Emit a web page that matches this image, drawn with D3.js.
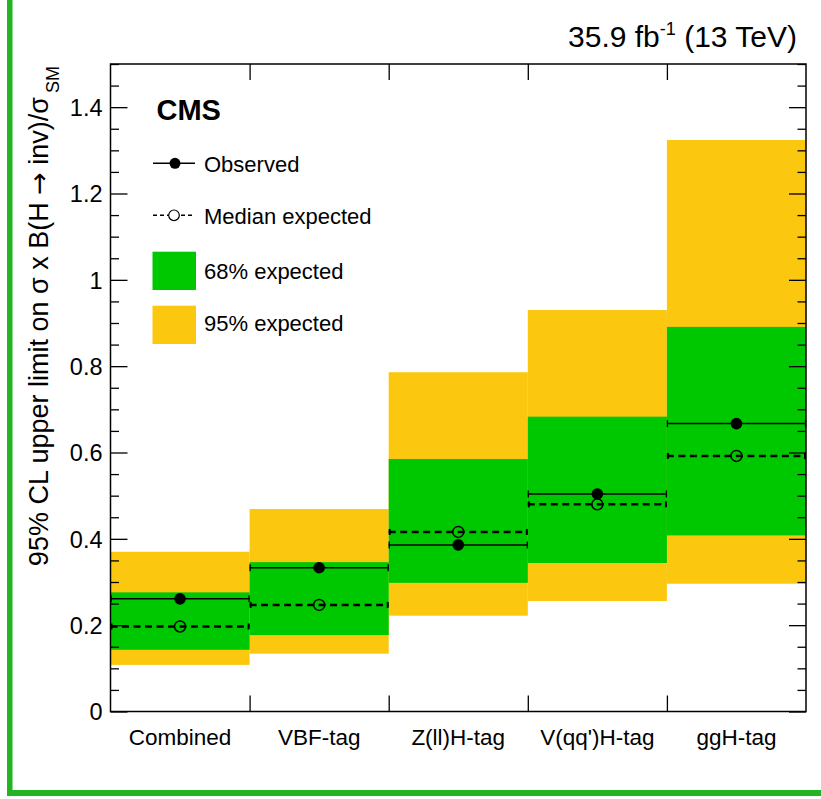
<!DOCTYPE html>
<html>
<head>
<meta charset="utf-8">
<script src="https://cdn.jsdelivr.net/npm/d3@7"></script>
<style>
  html, body { margin: 0; padding: 0; background: #fff; }
  svg { display: block; }
  text { font-family: "Liberation Sans", Arial, Helvetica, sans-serif; fill: #000; }
</style>
</head>
<body>
<svg id="chart" width="821" height="799"></svg>
<script>
// ---- data ----
const categories = ["Combined", "VBF-tag", "Z(ll)H-tag", "V(qq')H-tag", "ggH-tag"];
const observed   = [0.261, 0.333, 0.386, 0.504, 0.667];
const expected   = [0.197, 0.247, 0.416, 0.480, 0.592];
const band68Low  = [0.143, 0.177, 0.298, 0.344, 0.408];
const band68High = [0.276, 0.346, 0.585, 0.683, 0.891];
const band95Low  = [0.108, 0.134, 0.222, 0.256, 0.296];
const band95High = [0.370, 0.469, 0.786, 0.930, 1.324];
const yMajorTicks = [0, 0.2, 0.4, 0.6, 0.8, 1.0, 1.2, 1.4];
const yTickLabels = ["0", "0.2", "0.4", "0.6", "0.8", "1", "1.2", "1.4"];

// ---- layout ----
const svg = d3.select("#chart");
const L = 110.5, R = 806, T = 64, B = 711.5;
const GREEN = "#00c800", YELLOW = "#fbc70f";
const FONT = '"Liberation Sans", Arial, Helvetica, sans-serif';

const x = d3.scaleBand().domain(categories).range([L, R]).padding(0);
const xEdge = d3.scaleLinear().domain([0, categories.length]).range([L, R]);
const y = d3.scaleLinear().domain([0, 1.5]).range([B, T]);

const rows = categories.map((c, i) => ({
  c, obs: observed[i], exp: expected[i],
  l68: band68Low[i], h68: band68High[i], l95: band95Low[i], h95: band95High[i]
}));

// green page border
svg.append("rect").attr("x", 7).attr("y", 0).attr("width", 5.5).attr("height", 796).attr("fill", "#22b422");
svg.append("rect").attr("x", 7).attr("y", 790).attr("width", 814).attr("height", 6).attr("fill", "#22b422");

// bands
const g = svg.append("g");
g.selectAll("rect.b95").data(rows).join("rect")
  .attr("x", d => x(d.c)).attr("width", x.bandwidth())
  .attr("y", d => y(d.h95)).attr("height", d => y(d.l95) - y(d.h95))
  .attr("fill", YELLOW);
g.selectAll("rect.b68").data(rows).join("rect")
  .attr("x", d => x(d.c)).attr("width", x.bandwidth())
  .attr("y", d => y(d.h68)).attr("height", d => y(d.l68) - y(d.h68))
  .attr("fill", GREEN);

// expected (dashed)
const ge = svg.append("g");
rows.forEach(d => {
  const x0 = x(d.c), x1 = x(d.c) + x.bandwidth(), yy = y(d.exp);
  ge.append("line").attr("x1", x0).attr("x2", x1).attr("y1", yy).attr("y2", yy)
    .attr("stroke", "#000").attr("stroke-width", 2.5).attr("stroke-dasharray", "7,4.5");
  [x0 + 1, x1 - 1].forEach(xx => ge.append("line").attr("x1", xx).attr("x2", xx)
    .attr("y1", yy - 3).attr("y2", yy + 3).attr("stroke", "#000").attr("stroke-width", 2));
  ge.append("circle").attr("cx", x0 + x.bandwidth() / 2).attr("cy", yy).attr("r", 5.5)
    .attr("fill", "none").attr("stroke", "#000").attr("stroke-width", 1.5);
});

// observed (solid)
const go = svg.append("g");
rows.forEach(d => {
  const x0 = x(d.c), x1 = x(d.c) + x.bandwidth(), yy = y(d.obs);
  go.append("line").attr("x1", x0).attr("x2", x1).attr("y1", yy).attr("y2", yy)
    .attr("stroke", "#000").attr("stroke-width", 1.5);
  [x0 + 0.5, x1 - 0.5].forEach(xx => go.append("line").attr("x1", xx).attr("x2", xx)
    .attr("y1", yy - 3.5).attr("y2", yy + 3.5).attr("stroke", "#000").attr("stroke-width", 1.3));
  go.append("circle").attr("cx", x0 + x.bandwidth() / 2).attr("cy", yy).attr("r", 5.8).attr("fill", "#000");
});

// axes
const yMinor = d3.range(0, 1.5001, 0.05).map(v => +v.toFixed(2)).filter(v => !yMajorTicks.some(m => Math.abs(m - v) < 1e-6));
function styleAxis(sel) {
  sel.select(".domain").remove();
  sel.selectAll(".tick line").attr("stroke", "#000").attr("stroke-width", 1.3);
  sel.selectAll("text").style("font-family", FONT).attr("fill", "#000");
}
const yl = svg.append("g").attr("transform", `translate(${L},0)`)
  .call(d3.axisLeft(y).tickValues(yMajorTicks).tickSize(-17).tickPadding(8)
    .tickFormat((d, i) => yTickLabels[i]));
styleAxis(yl); yl.selectAll("text").attr("font-size", 23.5).attr("dy", "0.36em");
const ylm = svg.append("g").attr("transform", `translate(${L},0)`)
  .call(d3.axisLeft(y).tickValues(yMinor).tickSize(-8.5).tickFormat(""));
styleAxis(ylm);
const yr = svg.append("g").attr("transform", `translate(${R},0)`)
  .call(d3.axisRight(y).tickValues(yMajorTicks).tickSize(-17).tickFormat(""));
styleAxis(yr);
const yrm = svg.append("g").attr("transform", `translate(${R},0)`)
  .call(d3.axisRight(y).tickValues(yMinor).tickSize(-8.5).tickFormat(""));
styleAxis(yrm);

const edgeTicks = d3.range(1, categories.length);
const xb = svg.append("g").attr("transform", `translate(0,${B})`)
  .call(d3.axisBottom(xEdge).tickValues(edgeTicks).tickSize(-16).tickFormat(""));
styleAxis(xb);
const xt = svg.append("g").attr("transform", `translate(0,${T})`)
  .call(d3.axisTop(xEdge).tickValues(edgeTicks).tickSize(-16).tickFormat(""));
styleAxis(xt);
const xlab = svg.append("g").attr("transform", `translate(0,${B})`)
  .call(d3.axisBottom(x).tickSize(0).tickPadding(0));
xlab.select(".domain").remove();
xlab.selectAll("text").attr("font-size", 22.5).attr("dy", null).attr("y", 33.5)
  .style("font-family", FONT).attr("fill", "#000");

// frame
svg.append("rect").attr("x", L).attr("y", T).attr("width", R - L).attr("height", B - T)
  .attr("fill", "none").attr("stroke", "#000").attr("stroke-width", 1.5);

// y title
const yt = svg.append("text").attr("transform", "translate(48,66) rotate(-90)")
  .attr("text-anchor", "end").attr("font-size", 27);
yt.append("tspan").text("95% CL upper limit on σ x B(H ");
yt.append("tspan").style("font-family", '"DejaVu Sans", sans-serif').attr("font-size", 27).text("→");
yt.append("tspan").text(" inv)/σ");
yt.append("tspan").attr("font-size", 18).attr("dy", 11).attr("dx", 4).text("SM");

// top-right label
const tl = svg.append("text").attr("x", 797).attr("y", 47).attr("text-anchor", "end").attr("font-size", 30);
tl.append("tspan").text("35.9 fb");
tl.append("tspan").attr("font-size", 18).attr("dy", -12).text("-1");
tl.append("tspan").attr("dy", 12).text(" (13 TeV)");

// CMS
svg.append("text").attr("x", 156.5).attr("y", 120).attr("font-size", 29).attr("font-weight", "bold").text("CMS");

// legend
const lg = svg.append("g");
lg.append("line").attr("x1", 153).attr("x2", 195).attr("y1", 163.3).attr("y2", 163.3).attr("stroke", "#000").attr("stroke-width", 1.5);
lg.append("circle").attr("cx", 175).attr("cy", 163.3).attr("r", 5.5).attr("fill", "#000");
lg.append("text").attr("x", 204).attr("y", 171.5).attr("font-size", 22).text("Observed");

lg.append("line").attr("x1", 153).attr("x2", 195).attr("y1", 215.3).attr("y2", 215.3).attr("stroke", "#000")
  .attr("stroke-width", 1.5).attr("stroke-dasharray", "4,3");
lg.append("circle").attr("cx", 174).attr("cy", 215.3).attr("r", 5.3).attr("fill", "#fff").attr("stroke", "#000").attr("stroke-width", 1.2);
lg.append("text").attr("x", 204).attr("y", 223.5).attr("font-size", 22).text("Median expected");

lg.append("rect").attr("x", 152.5).attr("y", 251.7).attr("width", 43.5).attr("height", 38.3).attr("fill", GREEN);
lg.append("text").attr("x", 204).attr("y", 278.5).attr("font-size", 22).text("68% expected");
lg.append("rect").attr("x", 152.5).attr("y", 305.7).attr("width", 43.5).attr("height", 38.3).attr("fill", YELLOW);
lg.append("text").attr("x", 204).attr("y", 330.5).attr("font-size", 22).text("95% expected");
</script>
</body>
</html>
